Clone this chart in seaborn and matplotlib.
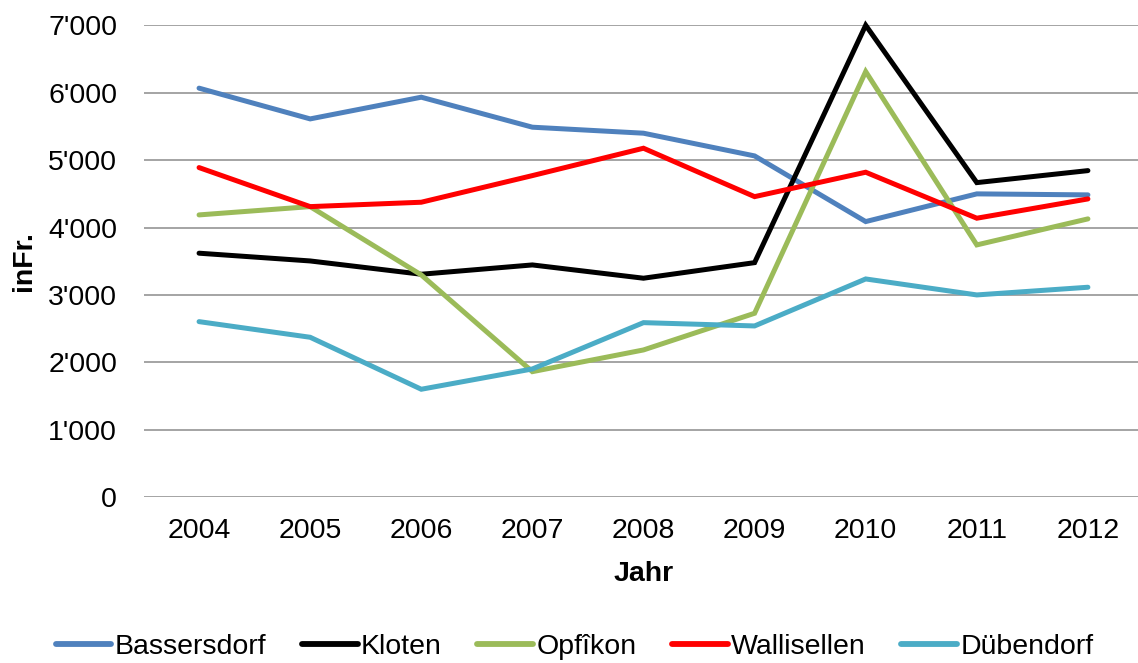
import matplotlib
matplotlib.use("Agg")
import matplotlib.pyplot as plt
from matplotlib.ticker import FuncFormatter, MultipleLocator
import seaborn as sns
import pandas as pd

years = ["2004", "2005", "2006", "2007", "2008", "2009", "2010", "2011", "2012"]
bassersdorf = [6067, 5611, 5933, 5488, 5399, 5062, 4088, 4499, 4484]
kloten = [3619, 3504, 3307, 3445, 3248, 3479, 7000, 4666, 4844]
opfikon = [4187, 4310, 3297, 1862, 2184, 2728, 6313, 3742, 4128]
wallisellen = [4889, 4310, 4375, 4770, 5176, 4458, 4820, 4138, 4424]
duebendorf = [2604, 2372, 1601, 1902, 2589, 2540, 3237, 3000, 3114]

series = {
    "Bassersdorf": bassersdorf,
    "Kloten": kloten,
    "Opfîkon": opfikon,
    "Wallisellen": wallisellen,
    "Dübendorf": duebendorf,
}
colors = ["#4F81BD", "#000000", "#9BBB59", "#FF0000", "#4BACC6"]

rows = []
for name, vals in series.items():
    for i, (yr, v) in enumerate(zip(years, vals)):
        rows.append({"pos": i, "Jahr": yr, "Wert": v, "Gemeinde": name})
df = pd.DataFrame(rows)

sns.set_theme(style="white")
plt.rcParams["font.family"] = ["Liberation Sans", "DejaVu Sans"]
plt.rcParams["text.color"] = "black"

FS = 20.5

fig = plt.figure(figsize=(11.38, 6.63), dpi=100)
ax = fig.add_axes([0.1261, 0.2501, 0.8787, 0.7118])

sns.lineplot(data=df, x="pos", y="Wert", hue="Gemeinde",
             palette=colors, linewidth=3.6, ax=ax, legend=True,
             solid_capstyle="round", solid_joinstyle="miter")
for ln in ax.lines:
    ln.set_clip_on(False)
    ln.set_zorder(3)

ax.set_xlim(-0.5, len(years) - 0.5)
ax.set_ylim(0, 7000)
ax.set_xticks(range(len(years)))
ax.set_xticklabels(years)
ax.yaxis.set_major_locator(MultipleLocator(1000))
ax.yaxis.set_major_formatter(
    FuncFormatter(lambda v, p: f"{int(v):,}".replace(",", "'")))

ax.grid(axis="y", color="#8C8C8C", linewidth=1.1)
ax.grid(axis="x", visible=False)
ax.set_axisbelow(True)
for s in ax.spines.values():
    s.set_visible(False)

ax.tick_params(axis="y", length=0, pad=19, labelsize=FS, labelcolor="black")
ax.tick_params(axis="x", length=0, pad=15, labelsize=FS, labelcolor="black")

ax.set_xlabel("Jahr", fontsize=FS, fontweight="bold", labelpad=12, color="black")
ax.set_ylabel("inFr.", fontsize=FS, fontweight="bold", labelpad=8, color="black")

handles, labels = ax.get_legend_handles_labels()
ax.legend_.remove()
for h in handles:
    h.set_linewidth(4.2)
fig.legend(handles, labels, loc="center", bbox_to_anchor=(0.505, 0.024),
           ncol=5, frameon=False, fontsize=FS, handlelength=1.95,
           handletextpad=0.12, columnspacing=1.25, borderaxespad=0,
           labelcolor="black")

fig.savefig("out.png", dpi=100)
